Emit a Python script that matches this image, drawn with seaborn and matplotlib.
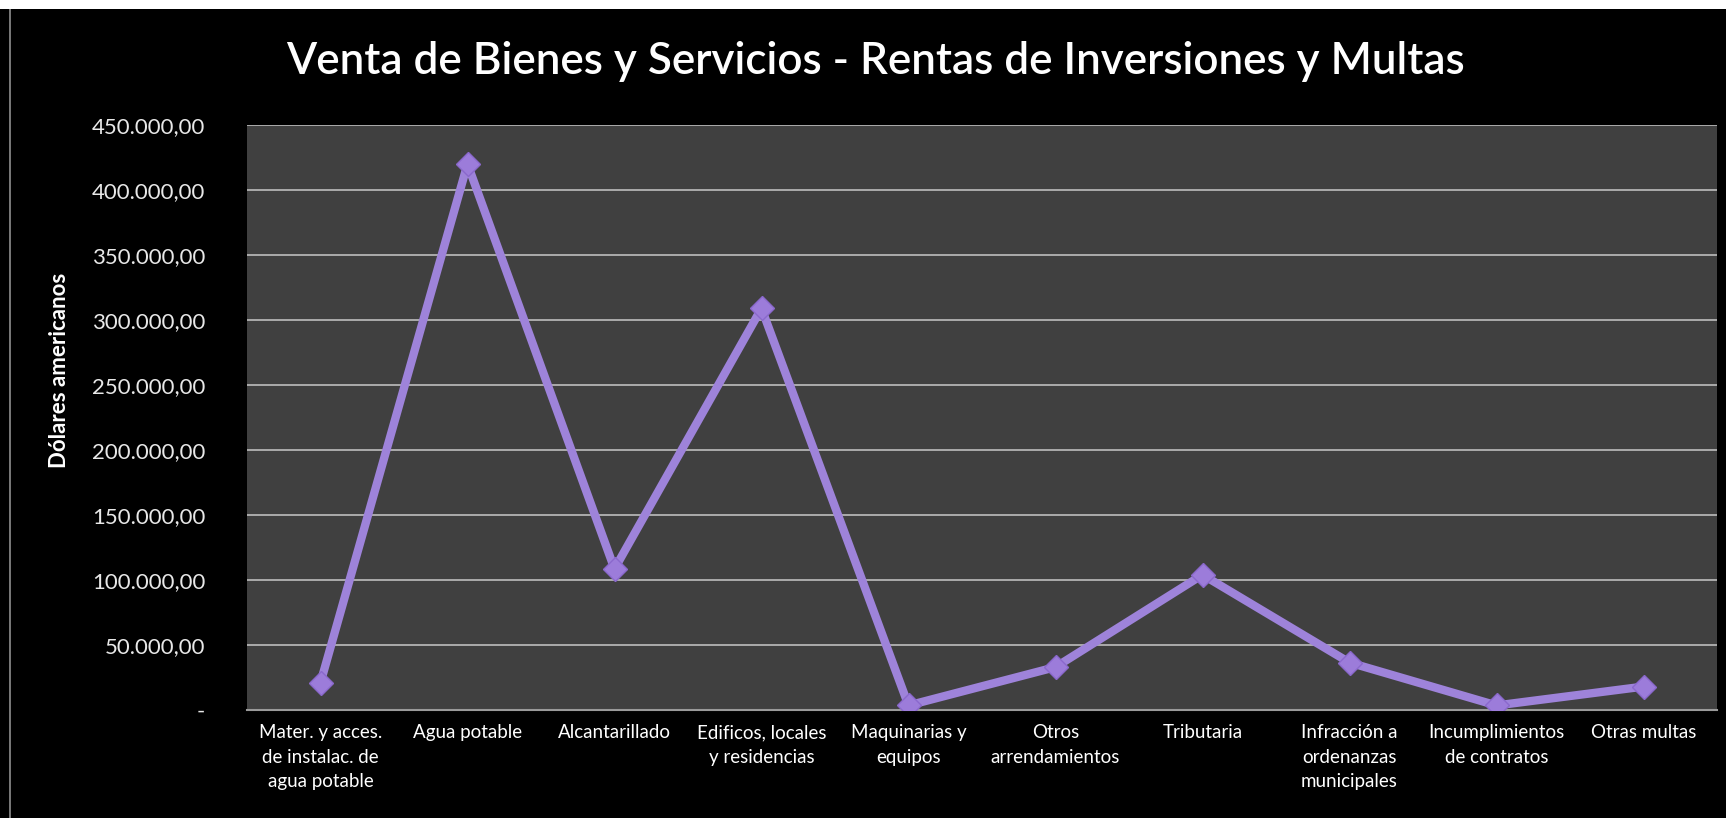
import pandas as pd
import matplotlib.pyplot as plt
import matplotlib.patches as mpatches
from matplotlib.ticker import FuncFormatter, MultipleLocator
import seaborn as sns

# Categories and values (dollars)
categorias = [
    "Mater. y acces.\nde instalac. de\nagua potable",
    "Agua potable",
    "Alcantarillado",
    "Edificos, locales\ny residencias",
    "Maquinarias y\nequipos",
    "Otros\narrendamientos",
    "Tributaria",
    "Infracción a\nordenanzas\nmunicipales",
    "Incumplimientos\nde contratos",
    "Otras multas",
]
valores = [21000, 420000, 108500, 309000, 3500, 33000, 104000, 36500, 3500, 18000]

df = pd.DataFrame({"Categoria": categorias, "Valor": valores})
df["pos"] = range(len(df))

sns.set_theme(style="dark")
plt.rcParams['font.family'] = ['Lato', 'DejaVu Sans']

fig = plt.figure(figsize=(17.26, 8.18), dpi=100, facecolor='black')
ax = fig.add_axes([247 / 1726, 1 - 710 / 818, (1717 - 247) / 1726, (710 - 125) / 818])
ax.set_facecolor('#404040')

# white strip on top and thin gray frame at the left, as in the screenshot
fig.patches.append(mpatches.Rectangle((0, 1 - 9 / 818), 1, 9 / 818, transform=fig.transFigure,
                                      facecolor='white', edgecolor='none', zorder=-1))
fig.patches.append(mpatches.Rectangle((9 / 1726, 0), 0.0012, 1 - 9 / 818, transform=fig.transFigure,
                                      facecolor='#777777', edgecolor='none', zorder=-1))

sns.lineplot(data=df, x='pos', y='Valor', ax=ax, color='#9E83DA', linewidth=6,
             marker='D', markersize=12, markerfacecolor='#9C7CDA', markeredgecolor='#8A68CC',
             markeredgewidth=1, zorder=3)

ax.set_xlim(-0.5, len(df) - 0.5)
ax.set_ylim(0, 450000)
ax.yaxis.set_major_locator(MultipleLocator(50000))


def fmt(v, _):
    if v == 0:
        return '-'
    return f"{v:,.2f}".replace(',', 'X').replace('.', ',').replace('X', '.')


ax.yaxis.set_major_formatter(FuncFormatter(fmt))
ax.grid(axis='y', color='#B4B4B4', linewidth=1.3)
ax.grid(axis='x', visible=False)

ax.set_xticks(df['pos'])
ax.set_xticklabels(df['Categoria'], fontsize=13.5, color='white', linespacing=1.55, va='top')
ax.tick_params(axis='x', length=0, pad=10)
ax.tick_params(axis='y', length=0, pad=30, labelsize=16, labelcolor='#E8E8E8')

for s in ['top', 'right', 'left']:
    ax.spines[s].set_visible(False)
ax.spines['bottom'].set_color('#9A9A9A')
ax.spines['bottom'].set_linewidth(1.5)

ax.set_xlabel('')
ax.set_ylabel('Dólares americanos', fontsize=16, fontweight='bold', color='white')
ax.yaxis.set_label_coords(-0.1205, 0.581)

fig.text(0.507, 1 - 62 / 818, 'Venta de Bienes y Servicios - Rentas de Inversiones y Multas',
         ha='center', va='center', fontsize=31.7, color='white', fontweight='semibold')

fig.savefig('out.png', dpi=100, facecolor='black')
